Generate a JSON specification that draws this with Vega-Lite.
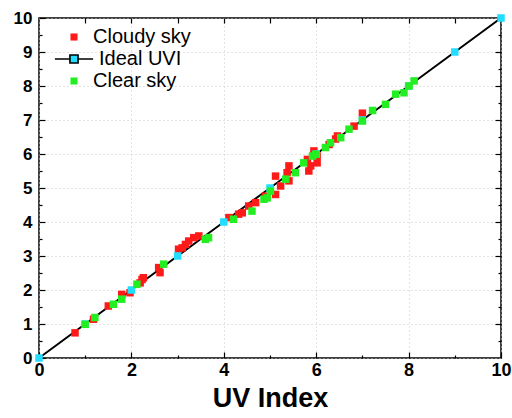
{
  "$schema": "https://vega.github.io/schema/vega-lite/v6.json",
  "width": 462,
  "height": 340,
  "autosize": "none",
  "padding": {"left": 39, "top": 18, "right": 11, "bottom": 60},
  "config": {
    "view": {"stroke": "black", "strokeWidth": 1.5},
    "font": "Liberation Sans",
    "axis": {"domain": false, "tickColor": "black", "tickWidth": 1.2, "labelColor": "black"}
  },
  "data": {
    "values": [
      {"series": "Cloudy sky", "x": 0.78, "y": 0.74},
      {"series": "Cloudy sky", "x": 1.18, "y": 1.14},
      {"series": "Cloudy sky", "x": 1.5, "y": 1.53},
      {"series": "Cloudy sky", "x": 1.79, "y": 1.87},
      {"series": "Cloudy sky", "x": 1.97, "y": 1.92},
      {"series": "Cloudy sky", "x": 2.19, "y": 2.21},
      {"series": "Cloudy sky", "x": 2.23, "y": 2.31},
      {"series": "Cloudy sky", "x": 2.26, "y": 2.36},
      {"series": "Cloudy sky", "x": 2.59, "y": 2.66},
      {"series": "Cloudy sky", "x": 2.62, "y": 2.51},
      {"series": "Cloudy sky", "x": 3.02, "y": 3.2},
      {"series": "Cloudy sky", "x": 3.1, "y": 3.24},
      {"series": "Cloudy sky", "x": 3.17, "y": 3.34},
      {"series": "Cloudy sky", "x": 3.24, "y": 3.44},
      {"series": "Cloudy sky", "x": 3.35, "y": 3.54},
      {"series": "Cloudy sky", "x": 3.46, "y": 3.59},
      {"series": "Cloudy sky", "x": 4.11, "y": 4.13},
      {"series": "Cloudy sky", "x": 4.32, "y": 4.23},
      {"series": "Cloudy sky", "x": 4.4, "y": 4.27},
      {"series": "Cloudy sky", "x": 4.54, "y": 4.47},
      {"series": "Cloudy sky", "x": 4.69, "y": 4.57},
      {"series": "Cloudy sky", "x": 4.9, "y": 4.76},
      {"series": "Cloudy sky", "x": 5.12, "y": 4.81},
      {"series": "Cloudy sky", "x": 5.12, "y": 5.35},
      {"series": "Cloudy sky", "x": 5.23, "y": 5.06},
      {"series": "Cloudy sky", "x": 5.37, "y": 5.45},
      {"series": "Cloudy sky", "x": 5.41, "y": 5.65},
      {"series": "Cloudy sky", "x": 5.41, "y": 5.21},
      {"series": "Cloudy sky", "x": 5.81, "y": 5.84},
      {"series": "Cloudy sky", "x": 5.84, "y": 5.5},
      {"series": "Cloudy sky", "x": 5.88, "y": 5.65},
      {"series": "Cloudy sky", "x": 5.95, "y": 6.09},
      {"series": "Cloudy sky", "x": 6.02, "y": 5.94},
      {"series": "Cloudy sky", "x": 6.02, "y": 5.74},
      {"series": "Cloudy sky", "x": 6.28, "y": 6.28},
      {"series": "Cloudy sky", "x": 6.42, "y": 6.44},
      {"series": "Cloudy sky", "x": 6.46, "y": 6.53},
      {"series": "Cloudy sky", "x": 6.82, "y": 6.82},
      {"series": "Cloudy sky", "x": 7.0, "y": 7.2},
      {"series": "Ideal UVI", "x": 0, "y": 0},
      {"series": "Ideal UVI", "x": 1, "y": 1},
      {"series": "Ideal UVI", "x": 2, "y": 2},
      {"series": "Ideal UVI", "x": 3, "y": 3},
      {"series": "Ideal UVI", "x": 4, "y": 4},
      {"series": "Ideal UVI", "x": 5, "y": 5},
      {"series": "Ideal UVI", "x": 6, "y": 6},
      {"series": "Ideal UVI", "x": 7, "y": 7},
      {"series": "Ideal UVI", "x": 8, "y": 8},
      {"series": "Ideal UVI", "x": 9, "y": 9},
      {"series": "Ideal UVI", "x": 10, "y": 10},
      {"series": "Clear sky", "x": 1.0, "y": 0.99},
      {"series": "Clear sky", "x": 1.21, "y": 1.19},
      {"series": "Clear sky", "x": 1.61, "y": 1.58},
      {"series": "Clear sky", "x": 1.79, "y": 1.73},
      {"series": "Clear sky", "x": 2.12, "y": 2.17},
      {"series": "Clear sky", "x": 2.7, "y": 2.76},
      {"series": "Clear sky", "x": 3.6, "y": 3.49},
      {"series": "Clear sky", "x": 3.67, "y": 3.54},
      {"series": "Clear sky", "x": 4.21, "y": 4.08},
      {"series": "Clear sky", "x": 4.61, "y": 4.32},
      {"series": "Clear sky", "x": 4.87, "y": 4.67},
      {"series": "Clear sky", "x": 4.94, "y": 4.71},
      {"series": "Clear sky", "x": 5.01, "y": 4.91},
      {"series": "Clear sky", "x": 5.34, "y": 5.26},
      {"series": "Clear sky", "x": 5.55, "y": 5.45},
      {"series": "Clear sky", "x": 5.73, "y": 5.74},
      {"series": "Clear sky", "x": 5.92, "y": 5.94},
      {"series": "Clear sky", "x": 5.99, "y": 5.99},
      {"series": "Clear sky", "x": 6.2, "y": 6.19},
      {"series": "Clear sky", "x": 6.31, "y": 6.33},
      {"series": "Clear sky", "x": 6.53, "y": 6.48},
      {"series": "Clear sky", "x": 6.71, "y": 6.73},
      {"series": "Clear sky", "x": 7.0, "y": 6.97},
      {"series": "Clear sky", "x": 7.22, "y": 7.28},
      {"series": "Clear sky", "x": 7.5, "y": 7.46},
      {"series": "Clear sky", "x": 7.72, "y": 7.76},
      {"series": "Clear sky", "x": 7.9, "y": 7.8},
      {"series": "Clear sky", "x": 8.01, "y": 8.0},
      {"series": "Clear sky", "x": 8.12, "y": 8.15}
    ]
  },
  "layer": [
    {
      "transform": [{"filter": "datum.series === 'Ideal UVI'"}],
      "mark": {"type": "line", "color": "black", "strokeWidth": 2},
      "encoding": {
        "x": {"field": "x", "type": "quantitative", "scale": {"domain": [0, 10], "nice": false},
          "axis": {"orient": "bottom", "values": [0, 2, 4, 6, 8, 10], "format": "d", "tickSize": -6, "labelPadding": 9,
            "labelFontSize": 18, "labelFontWeight": "bold", "labelFlush": false,
            "grid": true, "gridColor": "#c8c8c8", "gridDash": [1, 3], "gridWidth": 1,
            "title": "UV Index", "titleFontSize": 27, "titleFontWeight": "bold", "titleColor": "black", "titlePadding": 6}},
        "y": {"field": "y", "type": "quantitative", "scale": {"domain": [0, 10], "nice": false},
          "axis": {"orient": "left", "values": [0, 1, 2, 3, 4, 5, 6, 7, 8, 9, 10], "format": "d", "tickSize": -6, "labelPadding": 13,
            "labelFontSize": 17, "labelFontWeight": "bold", "labelFlush": false,
            "grid": true, "gridColor": "#c8c8c8", "gridDash": [1, 3], "gridWidth": 1, "title": null}}
      }
    },
    {
      "transform": [{"filter": "datum.series === 'Ideal UVI'"}],
      "mark": {"type": "line", "color": "black", "strokeWidth": 2, "opacity": 0},
      "encoding": {
        "x": {"field": "x", "type": "quantitative",
          "axis": {"orient": "bottom", "values": [1, 3, 5, 7, 9], "tickSize": -3, "labels": false, "grid": false, "title": null}},
        "y": {"field": "y", "type": "quantitative",
          "axis": {"orient": "left", "values": [0.5, 1.5, 2.5, 3.5, 4.5, 5.5, 6.5, 7.5, 8.5, 9.5], "tickSize": -3, "labels": false, "grid": false, "title": null}}
      }
    },
    {
      "transform": [{"filter": "datum.series === 'Ideal UVI'"}],
      "mark": {"type": "line", "color": "black", "strokeWidth": 2, "opacity": 0},
      "encoding": {
        "x": {"field": "x", "type": "quantitative",
          "axis": {"orient": "top", "values": [1, 2, 3, 4, 5, 6, 7, 8, 9], "tickSize": -5, "labels": false, "grid": false, "title": null}},
        "y": {"field": "y", "type": "quantitative",
          "axis": {"orient": "right", "values": [0.5, 1.5, 2.5, 3.5, 4.5, 5.5, 6.5, 7.5, 8.5, 9.5], "tickSize": -3, "labels": false, "grid": false, "title": null}}
      }
    },
    {
      "mark": {"type": "square", "size": 56, "opacity": 1, "filled": true},
      "encoding": {
        "x": {"field": "x", "type": "quantitative",
          "axis": {"orient": "top", "values": [0, 10], "tickSize": 0, "labels": false, "grid": false, "title": null}},
        "y": {"field": "y", "type": "quantitative",
          "axis": {"orient": "right", "values": [1, 2, 3, 4, 5, 6, 7, 8, 9], "tickSize": -6, "labels": false, "grid": false, "title": null}},
        "color": {"field": "series", "type": "nominal",
          "scale": {"domain": ["Cloudy sky", "Ideal UVI", "Clear sky"], "range": ["#ff1a1a", "#22ddff", "#22ee22"]},
          "legend": {"orient": "none", "legendX": 25, "legendY": 9, "title": null, "padding": 0,
            "labelFontSize": 20, "labelColor": "black", "labelOffset": 9, "rowPadding": 2,
            "symbolSize": 50, "symbolType": "square", "symbolOpacity": 1,
            "encode": {
              "symbols": {"update": {
                "shape": {"signal": "datum.label === 'Ideal UVI' ? 'M-5.4,0H-1.15M1.15,0H5.4M-1.15,-1.15H1.15V1.15H-1.15Z' : 'square'"},
                "stroke": {"signal": "datum.label === 'Ideal UVI' ? 'black' : 'transparent'"},
                "strokeWidth": {"value": 1.6}}},
              "labels": {"update": {"dx": {"signal": "datum.label === 'Ideal UVI' ? 6 : 0"}}}
            }}}
      }
    }
  ],
  "resolve": {"axis": {"x": "independent", "y": "independent"}}
}
